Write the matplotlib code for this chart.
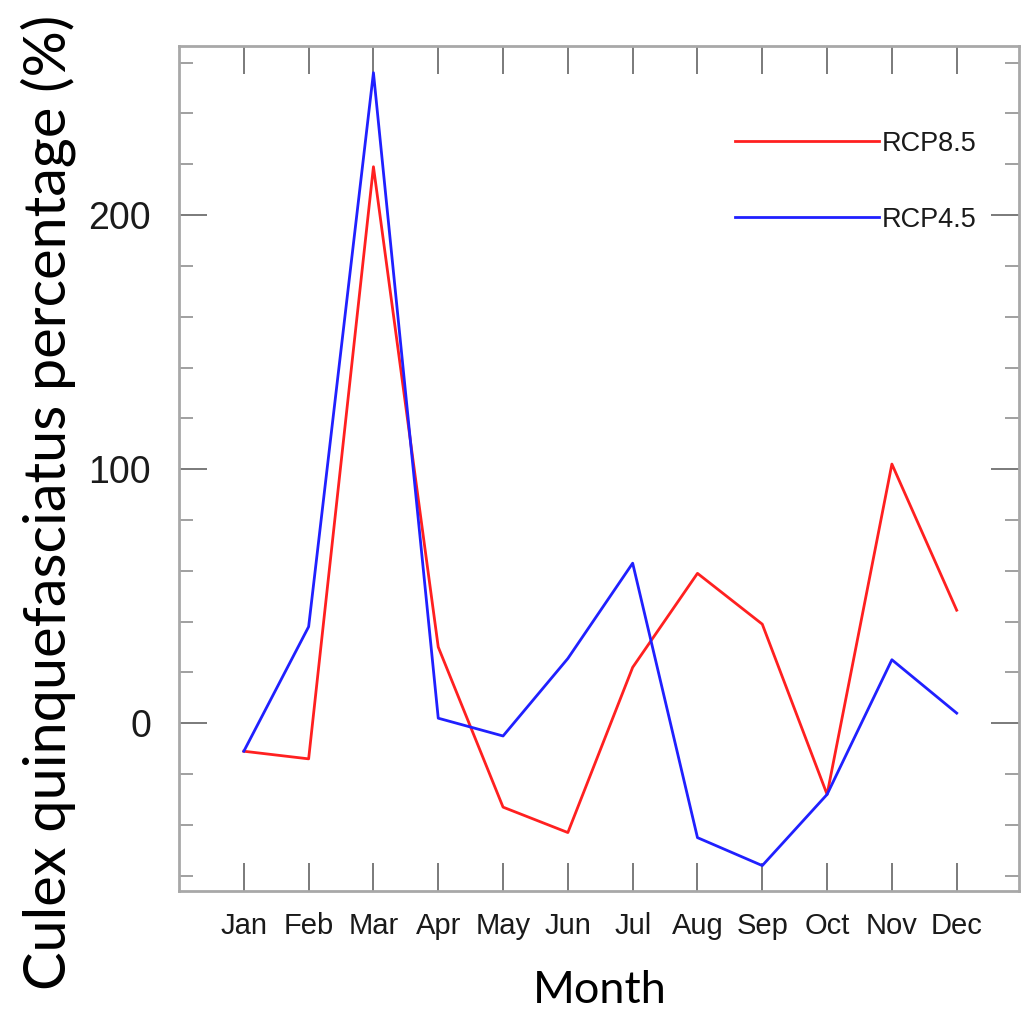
import numpy as np
import matplotlib
matplotlib.use('Agg')
import matplotlib.pyplot as plt
from matplotlib.ticker import MultipleLocator

months = ['Jan', 'Feb', 'Mar', 'Apr', 'May', 'Jun', 'Jul', 'Aug', 'Sep', 'Oct', 'Nov', 'Dec']
rcp85 = [-11, -14, 219, 30, -33, -43, 22, 59, 39, -28, 102, 44.5]
rcp45 = [-11, 38, 256, 2, -5, 25.5, 63, -45, -56, -28, 25, 4]

x = np.arange(1, len(months) + 1)

fig = plt.figure(figsize=(10.23, 10.14), dpi=100)
ax = fig.add_axes([0.175, 0.1213, 0.821, 0.8333])

ax.plot(x, rcp85, color='#ff2020', lw=2, label='RCP8.5')
ax.plot(x, rcp45, color='#2020ff', lw=2, label='RCP4.5')

ax.set_xlim(0, 12.96)
ax.set_ylim(-66, 266.5)
ax.set_xticks(x)
ax.set_xticklabels(months)
ax.yaxis.set_major_locator(MultipleLocator(100))
ax.yaxis.set_minor_locator(MultipleLocator(20))

for s in ax.spines.values():
    s.set_color('#a8a8a8')
    s.set_linewidth(2)

ax.tick_params(axis='both', which='major', direction='in', length=20, width=1.3,
               color='#707070', top=True, right=True)
ax.tick_params(axis='y', which='minor', direction='in', length=10, width=1.2,
               color='#909090', right=True, left=True)
ax.tick_params(axis='x', labelsize=21, pad=15, labelcolor='#1a1a1a')
ax.tick_params(axis='y', labelsize=27, pad=20, labelcolor='#1a1a1a')
for lab in ax.get_xticklabels() + ax.get_yticklabels():
    lab.set_family('Liberation Sans')

ax.set_ylabel('Culex quinquefasciatus percentage (%)', fontsize=41.5, family='Lato')
ax.yaxis.set_label_coords(-0.123, 0.46)
ax.set_xlabel('Month', fontsize=32.5, family='Lato')
ax.xaxis.set_label_coords(0.501, -0.094)

leg = ax.legend(loc='upper left', bbox_to_anchor=(0.662, 0.9), frameon=False,
                handlelength=5.3, handletextpad=0.1, labelspacing=1.85,
                borderpad=0, borderaxespad=0,
                prop={'family': 'Liberation Sans', 'size': 19.5})
for t in leg.get_texts():
    t.set_color('#1a1a1a')

fig.savefig('out.png', dpi=100)
